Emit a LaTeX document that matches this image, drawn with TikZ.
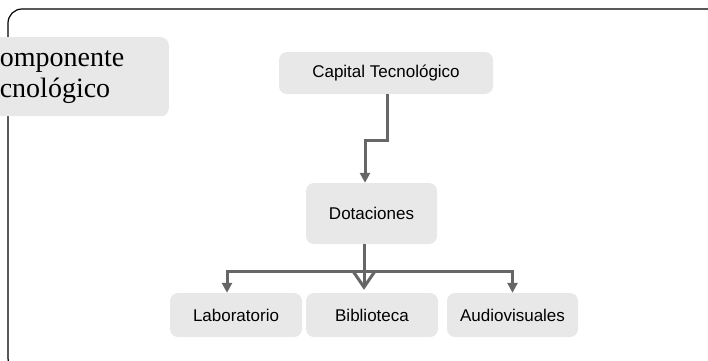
\documentclass[tikz,border=0pt]{standalone}
\usepackage{fontspec}
\newfontfamily\arialfont{Liberation Sans}
\newfontfamily\timesfont{Liberation Serif}
\usetikzlibrary{arrows.meta,positioning}
\definecolor{cajagris}{HTML}{E8E8E8}
\definecolor{lineagris}{HTML}{666666}

\begin{document}
\begin{tikzpicture}[
    x=1pt, y=-1pt,
    caja/.style={fill=cajagris, rounded corners=8pt, align=center, inner sep=0pt, font=\arialfont\fontsize{17}{20}\selectfont},
    tema/.style={fill=cajagris, rounded corners=8pt, align=left, inner xsep=34pt, inner ysep=0pt, text width=135pt, minimum height=79pt, font=\timesfont\fontsize{28}{31}\selectfont},
    linea/.style={draw=lineagris, line width=3pt},
    flecha/.style={linea, -{Triangle[length=10pt, width=10pt]}},
    vflecha/.style={linea, -{Straight Barb[length=16pt, width=22pt, line width=3pt]}}
]
\clip (0,0) rectangle (708,360);
% marco
\draw[line width=1.2pt, rounded corners=14pt] (8,9) rectangle (730,372);

\node[tema, anchor=north east] (tema) at (169,37) {omponente\\cnológico};

\node[caja, minimum width=214pt, minimum height=42pt] (cap) at (386,73) {Capital Tecnológico};
\node[caja, minimum width=131pt, minimum height=61pt] (dot) at (371.5,213.5) {Dotaciones};
\node[caja, minimum width=132pt, minimum height=44pt] (lab) at (236,315) {Laboratorio};
\node[caja, minimum width=132pt, minimum height=44pt] (bib) at (372,315) {Biblioteca};
\node[caja, minimum width=131pt, minimum height=44pt] (aud) at (512.5,315) {Audiovisuales};

\draw[flecha] ([xshift=1.5pt]cap.south) -- ++(0,46) -| ([xshift=-6.5pt]dot.north);
\draw[linea] ([xshift=-7.5pt]dot.south) -- ++(0,27) coordinate (rama);
\draw[flecha] (rama) -| ([xshift=-9pt]lab.north);
\draw[flecha] (rama) -| (aud.north);
\draw[vflecha] (rama) -- ([xshift=-8pt,yshift=3pt]bib.north);
\end{tikzpicture}
\end{document}
